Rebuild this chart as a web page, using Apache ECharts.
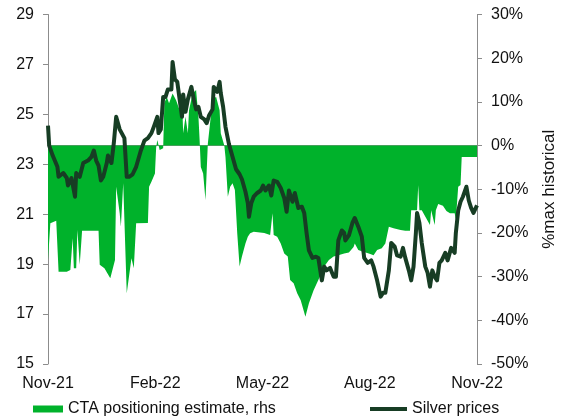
<!DOCTYPE html>
<html>
<head>
<meta charset="utf-8">
<script src="https://cdn.jsdelivr.net/npm/echarts@6/dist/echarts.min.js"></script>
<style>
  html, body { margin: 0; padding: 0; background: #fff; }
  #chart { width: 566px; height: 418px; }
</style>
</head>
<body>
<div id="chart"></div>
<script>
// Days elapsed since 1 Nov 2021
const tickLabels = ['Nov-21', 'Feb-22', 'May-22', 'Aug-22', 'Nov-22'];

// Silver price (USD/oz, left axis)
const silverDay = [0,1,4,8,9,13,16,17,20,23,24,27,30,34,37,39,41,43,45,47,50,51,54,56,58,61,65,67,69,72,75,79,82,85,88,90,93,94,96,98,100,102,105,106,108,110,112,114,115,117,119,122,124,126,128,130,133,135,137,140,141,144,146,147,149,151,154,157,160,163,165,168,170,171,173,175,178,181,183,185,188,190,192,195,198,201,203,205,208,210,213,216,218,220,222,225,228,230,233,235,237,240,243,245,247,250,252,253,256,259,261,264,267,269,272,275,277,280,283,285,287,290,292,295,297,300,302,304,307,309,311,313,314,316,318,321,323,325,327,329,331,333,335,338,340,343,346,347,349,351,353,356,358,360,362,365];
const silverPrice = [24.55,23.75,23.35,22.9,22.5,22.65,22.45,22.15,22.45,21.7,22.65,22.5,23.05,23.15,23.3,23.55,23.15,22.95,22.35,22.5,23.05,23.35,23.05,23.85,24.9,24.4,24.05,22.5,22.5,22.6,22.9,23.55,23.95,24.05,24.25,24.5,24.9,24.25,24.4,25.7,25.7,26.0,26.0,27.1,26.4,26.3,25.6,24.9,25.8,25.1,25.6,26.1,25.6,25.2,25.3,24.9,24.8,24.65,24.95,25.2,26.1,25.9,26.3,25.85,25.3,24.5,23.8,23.3,22.8,22.6,22.4,21.9,21.45,20.9,21.45,21.7,21.85,21.95,22.15,21.95,22.15,21.75,22.35,22.3,22.05,21.65,21.1,21.95,21.5,21.85,21.25,21.3,21.05,20.25,19.55,19.25,19.3,19.25,18.35,18.9,18.75,18.85,18.5,18.5,19.95,20.35,20.25,19.95,20.15,20.65,20.85,20.5,20.1,19.25,19.05,19.15,18.9,18.35,17.7,17.85,17.85,18.75,19.85,19.7,19.35,19.3,19.65,19.25,18.75,18.35,18.9,20.25,21.05,20.65,19.85,18.9,18.65,18.1,18.75,18.5,18.35,19.05,19.15,19.45,19.15,19.65,19.45,20.25,21.15,21.5,21.7,22.1,21.55,21.25,21.05,21.35];

// CTA positioning estimate (% of max historical, right axis)
const ctaDay = [0,2,7,9,16,19,21,22,24,25,27,29,43,44,48,53,57,58,61,62,64,67,71,73,75,76,85,86,88,91,92,93,95,98,99,101,103,106,109,112,114,115,117,119,120,123,126,128,129,130,132,134,135,136,140,143,146,147,150,151,153,155,157,159,161,163,165,168,170,172,175,184,189,191,192,195,198,201,204,206,209,212,215,219,222,226,230,235,239,243,247,252,256,260,261,264,268,273,277,280,284,287,290,294,300,304,308,309,314,315,316,318,325,326,329,330,332,336,339,342,346,347,349,351,352,363,365];
const ctaPct = [-26.2,-17.8,-17.2,-28.9,-28.9,-28.5,-21.2,-28.1,-28.1,-19.3,-27.3,-19.5,-19.5,-27.3,-28.1,-30.4,-26.2,-9.4,-15.5,-18.6,-8.6,-33.8,-25.8,-28.1,-17.8,-17.4,-17.7,-9.4,-8.3,-6.4,-0.5,1.3,-1.0,-0.6,9.7,11.2,9.7,11.9,10.4,8.1,11.2,2.8,6.6,2.8,8.1,11.9,12.7,6.6,1.3,-4.9,-6.4,-12.5,-6.0,0.5,10.4,11.2,8.1,2.8,0,-2.6,-11.7,-9.4,-8.6,-10.2,-20.1,-27.7,-25.4,-22.4,-20.9,-20.1,-19.7,-20.0,-20.5,-15.5,-20.5,-20.9,-22.4,-24.7,-25.4,-30.8,-31.5,-33.8,-35.4,-39.2,-36.1,-33.1,-30.8,-27.7,-26.2,-25.4,-25.1,-24.7,-24.5,-23.2,-22.4,-23.9,-24.3,-24.7,-25.1,-23.9,-23.5,-22.4,-18.6,-18.9,-19.3,-19.5,-19.5,-14.8,-14.8,-9.1,-14.8,-14.8,-18.2,-14.8,-18.2,-14.8,-13.4,-13.8,-15.0,-15.5,-15.5,-17.0,-9.4,-9.0,-2.6,-2.6,-2.6];

const ctaName = 'CTA positioning estimate, rhs';
const silverName = 'Silver prices';

const FONT = '"Liberation Sans", Arial, sans-serif';
const AXIS_GREY = '#8c8c8c';
const GREEN = '#00b22b';
const DARK = '#173d24';
const QUARTER = 365 / 4;

const chart = echarts.init(document.getElementById('chart'), null, { renderer: 'canvas' });

const axisCommon = {
  axisLine: { show: true, lineStyle: { color: AXIS_GREY, width: 1 } },
  axisTick: { show: true, inside: false, length: 5, lineStyle: { color: AXIS_GREY } },
  splitLine: { show: false },
  axisLabel: { color: '#111', fontFamily: FONT, fontSize: 16, margin: 14 }
};

chart.setOption({
  animation: false,
  backgroundColor: '#fff',
  grid: { left: 48, right: 87, top: 14.5, bottom: 54, containLabel: false },
  legend: [
    {
      data: [{ name: ctaName, icon: 'rect' }],
      left: 28, top: 396,
      itemWidth: 30, itemHeight: 7,
      textStyle: { color: '#111', fontFamily: FONT, fontSize: 16 }
    },
    {
      data: [{ name: silverName, icon: 'rect' }],
      left: 365, top: 396,
      itemWidth: 37, itemHeight: 4,
      textStyle: { color: '#111', fontFamily: FONT, fontSize: 16 }
    }
  ],
  xAxis: {
    type: 'value',
    min: 0, max: 365, interval: QUARTER,
    ...axisCommon,
    axisTick: { show: true, inside: false, length: 6, lineStyle: { color: AXIS_GREY } },
    axisLabel: {
      color: '#111', fontFamily: FONT, fontSize: 16, margin: 12,
      formatter: v => tickLabels[Math.round(v / QUARTER)] || ''
    }
  },
  yAxis: [
    {
      type: 'value', position: 'left',
      min: 15, max: 29, interval: 2,
      ...axisCommon
    },
    {
      type: 'value', position: 'right',
      min: -50, max: 30, interval: 10,
      ...axisCommon,
      axisLabel: { ...axisCommon.axisLabel, formatter: '{value}%' },
      name: '%max historical',
      nameLocation: 'middle',
      nameRotate: 90,
      nameGap: 64,
      nameTextStyle: { color: '#111', fontFamily: FONT, fontSize: 17 }
    }
  ],
  series: [
    {
      name: ctaName,
      type: 'line',
      yAxisIndex: 1,
      data: ctaDay.map((d, i) => [d, ctaPct[i]]),
      showSymbol: false,
      symbol: 'none',
      color: GREEN,
      lineStyle: { width: 0, color: GREEN },
      areaStyle: { color: GREEN, opacity: 1, origin: 0 },
      z: 1
    },
    {
      name: silverName,
      type: 'line',
      yAxisIndex: 0,
      data: silverDay.map((d, i) => [d, silverPrice[i]]),
      showSymbol: false,
      symbol: 'none',
      color: DARK,
      lineStyle: { width: 4, color: DARK, join: 'round' },
      z: 3
    }
  ]
});
</script>
</body>
</html>
